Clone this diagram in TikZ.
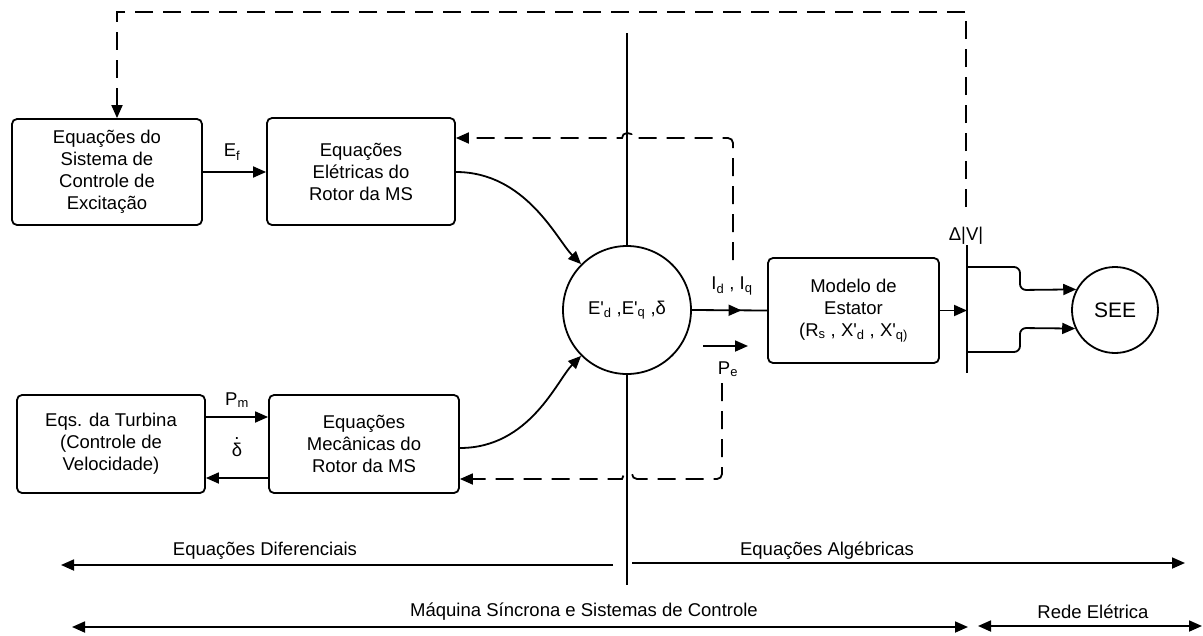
\documentclass[tikz,border=0pt]{standalone}
\usepackage{fontspec}
\setmainfont{Liberation Sans}[Ligatures=TeXOff]
\usetikzlibrary{arrows.meta,decorations.markings}

\newcommand{\dotdelta}{\ooalign{δ\cr\hidewidth\raisebox{0.92em}{.}\hidewidth\cr}}

\begin{document}
\begin{tikzpicture}[x=1pt,y=-1pt,
  font=\fontsize{18.5}{22}\selectfont,
  line width=1.8pt,
  blk/.style={draw, rounded corners=5pt, align=center, inner sep=0pt},
  tip/.style={-{Triangle[length=13pt,width=11pt]}},
  tiptwo/.style={{Triangle[length=13pt,width=11pt]}-{Triangle[length=13pt,width=11pt]}},
  dsh/.style={dash pattern=on 18pt off 10pt, rounded corners=5pt},
  lbl/.style={inner sep=0pt, align=center},
  midtip/.style={postaction={decorate}, decoration={markings,
      mark=at position #1 with {\arrow{Triangle[length=13pt,width=11pt]}}}}
]
\useasboundingbox (0,0) rectangle (1203,635);

% blocks
\node[blk, minimum width=190pt, minimum height=106pt] (exc) at (107,172)
  {Equações do\\Sistema de\\Controle de\\Excitação};
\node[blk, minimum width=188pt, minimum height=107pt] (elec) at (361,171.5)
  {Equações\\Elétricas do\\Rotor da MS};
\node[blk, minimum width=188pt, minimum height=98pt] (turb) at (111,444)
  {Eqs. da Turbina\\(Controle de\\Velocidade)};
\node[blk, minimum width=190pt, minimum height=98pt] (mech) at (364,444)
  {Equações\\Mecânicas do\\Rotor da MS};
\node[blk, minimum width=171pt, minimum height=105pt] (stat) at (853.5,310.5)
  {Modelo de\\Estator\\(R\textsubscript{s} , X'\textsubscript{d} , X'\textsubscript{q)}};
\node[draw, circle, minimum size=128pt, inner sep=0pt] (st) at (627,310)
  {E'\textsubscript{d} ,E'\textsubscript{q} ,δ};
\node[draw, circle, minimum size=86pt, inner sep=0pt, font=\fontsize{21}{24}\selectfont]
  (see) at (1115,310) {SEE};

% separating vertical line
\coordinate (vtop) at (627,33);
\coordinate (vbot) at (627,585);
\draw (vtop) -- (st.north);
\draw (st.south) -- (vbot);

% network bus
\coordinate (busT) at (967,245);
\coordinate (busB) at (967,373);
\draw (busT) -- (busB);
\node[lbl] (dv) at (966,236) {Δ|V|};

% signals between blocks
\draw[tip] (exc.east |- 0,172) -- (elec.west |- 0,172);
\node[lbl] (ef) at (232,152) {E\textsubscript{f}};
\draw[tip] (turb.east |- 0,417) -- (mech.west |- 0,417);
\node[lbl] (pm) at (237,400) {P\textsubscript{m}};
\draw[tip] (mech.west |- 0,478) -- (turb.east |- 0,478);
\node[lbl] (dd) at (237,450) {\dotdelta};

\draw[tip] (elec.east |- 0,172) .. controls +(70,0) and +(-24,-24) .. (st.135);
\draw[tip] (mech.east |- 0,448) .. controls +(70,0) and +(-24,24) .. (st.225);

\draw[midtip=0.66] (st.east) -- (stat.west);
\node[lbl] (idq) at (732,286) {I\textsubscript{d} , I\textsubscript{q}};
\coordinate (pea) at (703,346);
\coordinate (peb) at (748,346);
\draw[tip] (pea) -- (peb);
\node[lbl] (pe) at (728,369) {P\textsubscript{e}};

\draw[tip] (stat.east) -- (stat.east -| busT);

\draw[tip, rounded corners=6pt] (busT |- 0,267) -- (1020,267) -- (1020,290) -- (see.152);
\draw[tip, rounded corners=6pt] (busT |- 0,352) -- (1020,352) -- (1020,328) -- (see.205);

% feedback (dashed)
\coordinate (fbv) at (966,207);
\draw[dsh, tip, sharp corners] (fbv) -- (966,12) -- (117,12) -- (117,0 |- exc.north);
\coordinate (fbe) at (733,260);
\draw[dsh, tip] (fbe) -- (733,138) -- (632,138) [sharp corners]
  arc[start angle=0, end angle=180, radius=5pt] -- (elec.east |- 0,138);
\coordinate (fbm) at (722,383);
\draw[dsh, tip] (fbm) -- (722,479) -- (632,479) [sharp corners]
  arc[start angle=0, end angle=180, radius=5pt] -- (mech.east |- 0,479);

% ranges
\coordinate (dL) at (61,565);
\coordinate (dR) at (613,565);
\draw[tip] (dR) -- (dL);
\node[lbl] (dif) at (265,551) {Equações Diferenciais};
\coordinate (aL) at (632,563);
\coordinate (aR) at (1185,563);
\draw[tip] (aL) -- (aR);
\node[lbl] (alg) at (827,551) {Equações Algébricas};
\coordinate (mL) at (72,627);
\coordinate (mR) at (968,627);
\draw[tiptwo] (mL) -- (mR);
\node[lbl] (maq) at (584,612) {Máquina Síncrona e Sistemas de Controle};
\coordinate (rL) at (978,626);
\coordinate (rR) at (1202,626);
\draw[tiptwo] (rL) -- (rR);
\node[lbl] (rede) at (1093,612) {Rede Elétrica};
\end{tikzpicture}
\end{document}
